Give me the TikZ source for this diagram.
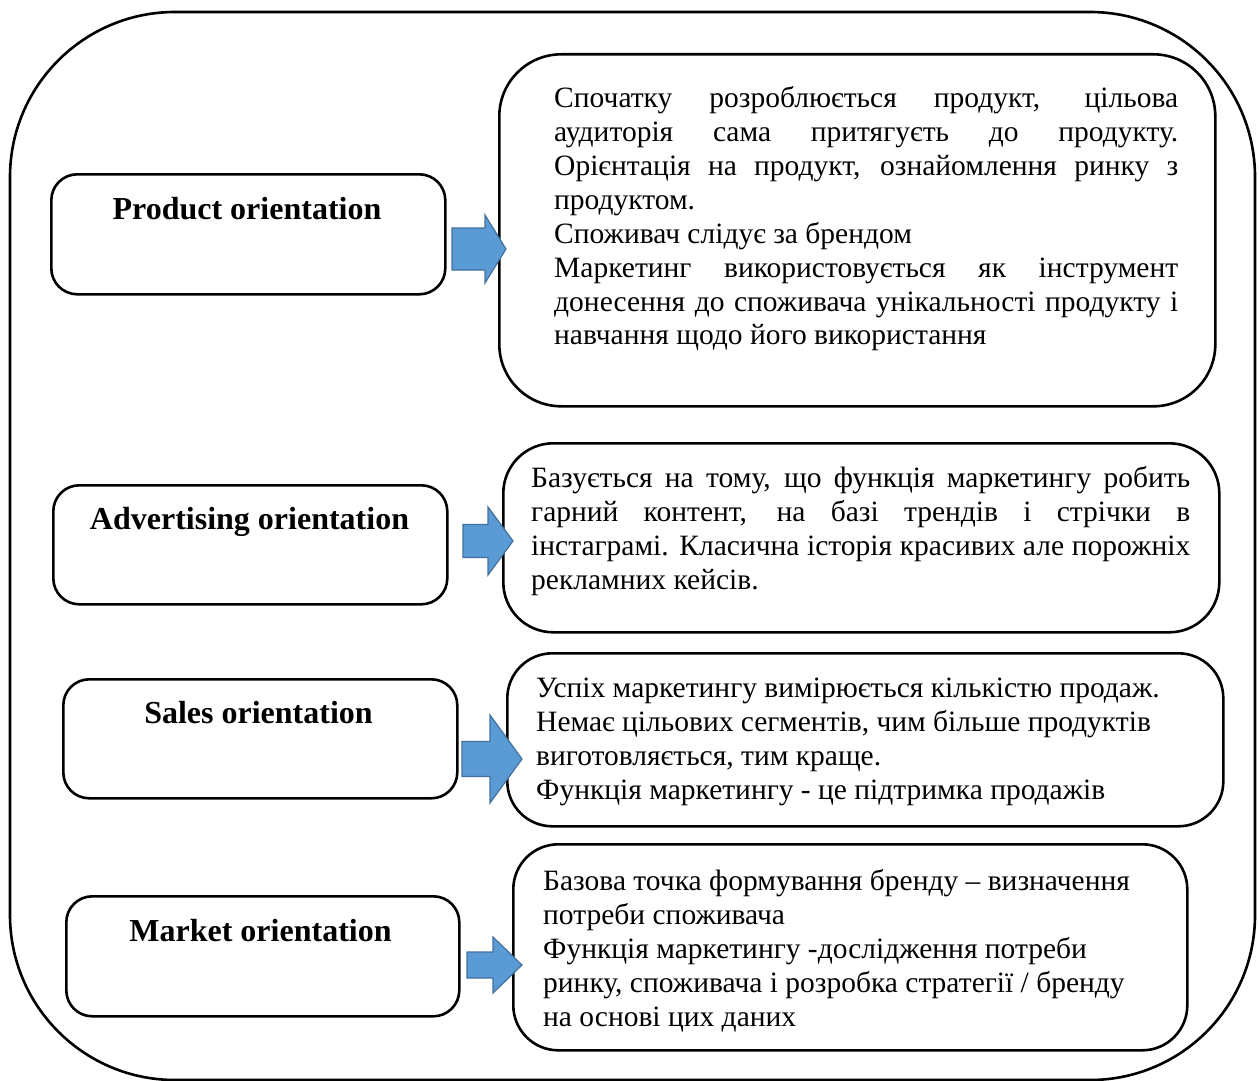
\documentclass[tikz,border=0pt]{standalone}
\usepackage{fontspec}
\setmainfont{Liberation Serif}
\definecolor{arrowfill}{HTML}{5B9BD5}
\definecolor{arrowline}{HTML}{41719C}
\tikzset{
  frame/.style={draw, line width=2.6pt, rounded corners=165pt},
  leftbox/.style={draw, line width=2.6pt, rounded corners=26pt, anchor=north west, inner sep=0pt},
  rightbox/.style={draw, line width=2.6pt, anchor=north west, inner sep=0pt},
  blockarrow/.style={fill=arrowfill, draw=arrowline, line width=1.2pt, line join=miter},
  titletext/.style={font=\fontsize{32}{38}\selectfont\bfseries, anchor=base, inner sep=0pt},
  bodytext/.style={font=\fontsize{29.5}{34}\selectfont, anchor=base west, inner sep=0pt}
}
% x1 = tail, x2 = head start, x3 = tip, ym = middle, sh = half shaft, hh = half head
\newcommand{\BlockArrow}[7]{%
  \coordinate (#1) at (#4,#5);
  \draw[blockarrow] (#2,#5-#6) -- (#3,#5-#6) -- (#3,#5-#7) -- (#1) -- (#3,#5+#7) -- (#3,#5+#6) -- (#2,#5+#6) -- cycle;
}
\newcommand{\BodyPar}[2]{\parbox[t]{#1pt}{\hyphenpenalty=10000\tolerance=10000\hbadness=10000\hfuzz=3pt #2}}
\begin{document}
\begin{tikzpicture}[x=1pt, y=-1pt]
\useasboundingbox (0,0) rectangle (1259,1081);
% outer frame
\draw[frame] (10,12) rectangle (1255,1080);

% left boxes
\node[leftbox, minimum width=394pt, minimum height=120pt] (lb1) at (50,173) {};
\node[leftbox, minimum width=394pt, minimum height=119pt] (lb2) at (52,484) {};
\node[leftbox, minimum width=394pt, minimum height=119pt] (lb3) at (62,678) {};
\node[leftbox, minimum width=393pt, minimum height=120pt] (lb4) at (65,895) {};

\node[titletext] (tt1) at (247,219) {Product orientation};
\node[titletext] (tt2) at (249.5,529) {Advertising orientation};
\node[titletext] (tt3) at (258.5,723) {Sales orientation};
\node[titletext] (tt4) at (260.5,941) {Market orientation};

% right boxes
\node[rightbox, rounded corners=62pt, minimum width=716pt, minimum height=352pt] (rb1) at (498,53) {};
\node[rightbox, rounded corners=50pt, minimum width=716pt, minimum height=189pt] (rb2) at (502,442) {};
\node[rightbox, rounded corners=45pt, minimum width=716pt, minimum height=173pt] (rb3) at (506,652) {};
\node[rightbox, rounded corners=45pt, minimum width=674pt, minimum height=206pt] (rb4) at (512,843) {};

% arrows
\BlockArrow{a1}{452}{485}{506}{249}{21}{34}
\BlockArrow{a2}{463}{488}{513}{541}{16.5}{34}
\BlockArrow{a3}{462}{490}{522}{759}{17.5}{44}
\BlockArrow{a4}{467}{493}{522}{965}{13}{28}

% texts
\node[bodytext] (bt1) at (554,107) {\BodyPar{624}{Спочатку розроблюється продукт, цільова\linebreak
аудиторія сама притягуєть до продукту.\linebreak
Орієнтація на продукт, ознайомлення ринку з\linebreak
продуктом.\par
Споживач слідує за брендом\par
Маркетинг використовується як інструмент\linebreak
донесення до споживача унікальності продукту і\linebreak
навчання щодо його використання}};

\node[bodytext] (bt2) at (531,487) {\BodyPar{659}{Базується на тому, що функція маркетингу робить\linebreak
гарний контент, на базі трендів і стрічки в\linebreak
інстаграмі. Класична історія красивих але порожніх\linebreak
рекламних кейсів.}};

\node[bodytext] (bt3) at (536,697) {\BodyPar{680}{\raggedright Успіх маркетингу вимірюється кількістю продаж.\\
Немає цільових сегментів, чим більше продуктів\\
виготовляється, тим краще.\\
Функція маркетингу - це підтримка продажів}};

\node[bodytext] (bt4) at (543,890) {\BodyPar{640}{\raggedright Базова точка формування бренду – визначення\\
потреби споживача\\
Функція маркетингу -дослідження потреби\\
ринку, споживача і розробка стратегії / бренду\\
на основі цих даних}};
\end{tikzpicture}
\end{document}
